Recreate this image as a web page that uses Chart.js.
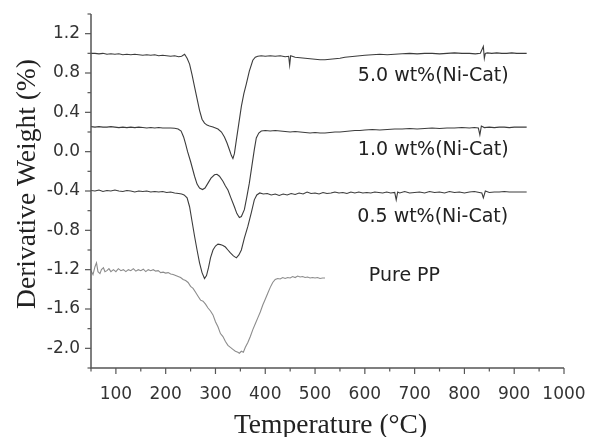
<!DOCTYPE html>
<html>
<head>
<meta charset="utf-8">
<script src="https://cdn.jsdelivr.net/npm/chart.js@4.4.1/dist/chart.umd.min.js"></script>
<style>
  html, body { margin: 0; padding: 0; background: #fff; }
  #wrap { width: 593px; height: 437px; position: relative; }
</style>
</head>
<body>
<div id="wrap"><canvas id="c"></canvas></div>
<script>
// ---- data ----
const seriesNames = ['5.0 wt%(Ni-Cat)', '1.0 wt%(Ni-Cat)', '0.5 wt%(Ni-Cat)', 'Pure PP'];
const xAxisTitle = 'Temperature (\u00B0C)';
const yAxisTitle = 'Derivative Weight (%)';

const tempNi50 = [50,58,66,74,82,90,98,106,114,122,130,138,146,154,162,170,178,186,194,202,210,218,226,232,238,243,248,253,258,263,268,273,278,283,288,295,305,312,318,323,328,332,335,338,342,347,352,357,362,368,375,380,385,392,400,410,420,430,440,447,449,451,460,470,480,490,500,510,520,530,540,550,560,570,580,590,600,615,630,645,660,675,690,705,720,735,750,765,780,795,810,822,832,838,840,842,846,855,865,875,885,895,905,915,925];
const derivNi50 = [1.00,1.0,0.995,1.0,0.99,0.995,0.99,0.995,0.985,0.99,0.985,0.99,0.985,0.98,0.985,0.98,0.985,0.975,0.98,0.975,0.97,0.975,0.965,0.97,0.99,0.95,0.89,0.78,0.66,0.54,0.42,0.33,0.29,0.27,0.26,0.25,0.23,0.20,0.15,0.09,0.02,-0.04,-0.07,-0.02,0.12,0.29,0.46,0.59,0.69,0.82,0.93,0.96,0.97,0.975,0.97,0.975,0.97,0.975,0.965,0.97,0.88,0.975,0.96,0.955,0.95,0.945,0.94,0.935,0.935,0.94,0.945,0.95,0.96,0.965,0.97,0.975,0.98,0.985,0.99,0.985,0.99,0.995,1.0,0.995,1.0,1.0,0.995,1.0,1.005,1.0,1.0,0.995,1.0,1.07,0.95,1.0,1.005,1.0,1.005,1.0,1.0,1.005,1.0,1.0,1.0];

const tempNi10 = [50,58,66,74,82,90,98,106,114,122,130,138,146,154,162,170,178,186,194,202,210,218,225,231,236,240,244,250,258,263,268,274,279,285,291,298,303,308,315,320,325,331,338,343,348,352,358,363,368,373,378,382,387,392,400,410,420,430,440,450,460,470,480,490,500,510,520,530,540,550,560,570,580,590,600,615,630,645,660,675,690,705,720,735,750,765,780,795,810,820,828,831,834,840,850,860,870,880,890,900,910,925];
const derivNi10 = [0.255,0.25,0.255,0.25,0.25,0.255,0.25,0.245,0.25,0.245,0.25,0.245,0.25,0.245,0.24,0.245,0.24,0.245,0.24,0.24,0.24,0.238,0.23,0.21,0.15,0.08,0.0,-0.10,-0.25,-0.33,-0.37,-0.385,-0.37,-0.32,-0.27,-0.235,-0.23,-0.25,-0.30,-0.35,-0.39,-0.47,-0.56,-0.63,-0.67,-0.66,-0.59,-0.46,-0.32,-0.15,0.02,0.14,0.19,0.21,0.215,0.21,0.215,0.21,0.205,0.2,0.205,0.2,0.195,0.19,0.195,0.19,0.19,0.195,0.2,0.2,0.205,0.21,0.215,0.215,0.22,0.225,0.22,0.225,0.23,0.23,0.235,0.23,0.235,0.24,0.235,0.24,0.24,0.245,0.24,0.245,0.24,0.17,0.26,0.245,0.25,0.245,0.25,0.25,0.245,0.25,0.25,0.25];

const tempNi05 = [50,58,66,74,82,90,98,106,114,122,130,138,146,154,162,170,178,186,194,202,210,218,226,232,237,243,248,253,258,263,268,273,278,282,286,290,295,300,305,310,315,320,325,330,336,342,347,352,358,365,372,378,383,389,396,404,412,420,428,436,444,452,460,468,476,484,492,500,508,516,524,532,540,548,556,564,572,580,588,596,604,612,620,628,636,644,652,660,663,666,670,680,690,700,710,720,730,740,750,760,770,780,790,800,810,820,830,835,838,842,850,860,870,880,890,900,910,925];
const derivNi05 = [-0.395,-0.40,-0.39,-0.405,-0.395,-0.40,-0.39,-0.40,-0.405,-0.395,-0.40,-0.41,-0.40,-0.405,-0.40,-0.41,-0.405,-0.41,-0.405,-0.415,-0.41,-0.42,-0.425,-0.43,-0.44,-0.47,-0.56,-0.71,-0.86,-1.0,-1.13,-1.23,-1.29,-1.26,-1.18,-1.08,-1.0,-0.96,-0.94,-0.945,-0.955,-0.97,-1.0,-1.03,-1.06,-1.08,-1.05,-1.0,-0.88,-0.76,-0.62,-0.49,-0.44,-0.42,-0.43,-0.425,-0.44,-0.43,-0.445,-0.43,-0.44,-0.425,-0.435,-0.42,-0.43,-0.41,-0.425,-0.42,-0.43,-0.415,-0.425,-0.42,-0.41,-0.42,-0.415,-0.425,-0.41,-0.42,-0.41,-0.42,-0.415,-0.42,-0.41,-0.415,-0.42,-0.41,-0.42,-0.415,-0.49,-0.41,-0.42,-0.405,-0.42,-0.415,-0.41,-0.42,-0.405,-0.415,-0.41,-0.42,-0.405,-0.415,-0.41,-0.42,-0.41,-0.405,-0.415,-0.42,-0.47,-0.40,-0.415,-0.41,-0.41,-0.405,-0.41,-0.41,-0.41,-0.41];

const tempPP = [50,54,58,61,64,68,71,75,78,82,86,90,95,100,105,110,115,120,125,130,135,140,145,150,155,160,165,170,175,180,185,190,195,200,205,210,215,220,225,230,235,240,245,250,255,260,265,270,275,280,285,290,295,300,305,310,315,320,325,330,335,340,345,348,352,356,360,365,370,375,380,385,390,395,400,405,410,415,420,425,430,435,440,445,450,455,460,465,470,475,480,485,490,495,500,505,510,515,520];
const derivPP = [-1.21,-1.25,-1.17,-1.13,-1.22,-1.24,-1.20,-1.18,-1.22,-1.21,-1.19,-1.22,-1.20,-1.22,-1.19,-1.21,-1.20,-1.22,-1.20,-1.21,-1.19,-1.215,-1.20,-1.21,-1.195,-1.22,-1.20,-1.21,-1.20,-1.215,-1.21,-1.23,-1.225,-1.235,-1.23,-1.245,-1.25,-1.26,-1.27,-1.28,-1.30,-1.31,-1.33,-1.37,-1.39,-1.43,-1.47,-1.51,-1.52,-1.55,-1.59,-1.62,-1.66,-1.73,-1.78,-1.85,-1.88,-1.93,-1.97,-1.99,-2.01,-2.03,-2.04,-2.05,-2.03,-2.04,-1.99,-1.94,-1.88,-1.81,-1.75,-1.69,-1.63,-1.56,-1.50,-1.44,-1.38,-1.33,-1.30,-1.29,-1.295,-1.28,-1.29,-1.28,-1.285,-1.27,-1.28,-1.265,-1.275,-1.27,-1.28,-1.275,-1.285,-1.28,-1.285,-1.28,-1.29,-1.285,-1.285];

const xMin = 50, xMax = 1000, xStep = 50, xLabelEvery = 100;
const yMin = -2.2, yMax = 1.4, yStep = 0.2, yLabelEvery = 0.4;

// label anchors (data coordinates) for the curve captions
const captionAnchors = [
  {x: 586, y: 0.722},
  {x: 586, y: -0.034},
  {x: 585, y: -0.72},
  {x: 608, y: -1.32}
];

const pts = (t, v) => t.map((tt, i) => ({x: tt, y: v[i]}));

const darkLine = '#3c3c3c';
const lightLine = '#8c8c8c';

const decor = {
  id: 'decor',
  afterDraw(chart) {
    const {ctx, chartArea: a, scales: {x, y}} = chart;
    ctx.save();
    ctx.strokeStyle = '#555';
    ctx.lineWidth = 1.5;
    ctx.beginPath();
    ctx.moveTo(a.left, a.top);
    ctx.lineTo(a.left, a.bottom);
    ctx.lineTo(a.right, a.bottom);
    ctx.stroke();
    ctx.lineWidth = 1.2;
    x.ticks.forEach(t => {
      const px = x.getPixelForValue(t.value);
      const major = Math.abs(Math.round(t.value) % xLabelEvery) === 0;
      ctx.beginPath();
      ctx.moveTo(px, a.bottom);
      ctx.lineTo(px, a.bottom + (major ? 6 : 3.5));
      ctx.stroke();
    });
    y.ticks.forEach(t => {
      const py = y.getPixelForValue(t.value);
      const major = Math.abs(Math.round(t.value * 10) % Math.round(yLabelEvery * 10)) === 0;
      ctx.beginPath();
      ctx.moveTo(a.left, py);
      ctx.lineTo(a.left - (major ? 6 : 3.5), py);
      ctx.stroke();
    });
    // captions
    ctx.fillStyle = '#222';
    ctx.font = '19px "DejaVu Sans"';
    ctx.textAlign = 'left';
    ctx.textBaseline = 'alphabetic';
    seriesNames.forEach((name, i) => {
      const an = captionAnchors[i];
      ctx.fillText(name, x.getPixelForValue(an.x), y.getPixelForValue(an.y));
    });
    // axis titles
    ctx.font = '27.5px "Liberation Serif"';
    ctx.textAlign = 'center';
    ctx.fillText(xAxisTitle, (a.left + a.right) / 2 + 3, a.bottom + 65);
    ctx.translate(a.left - 56, (a.top + a.bottom) / 2 - 7);
    ctx.rotate(-Math.PI / 2);
    ctx.fillText(yAxisTitle, 0, 0);
    ctx.restore();
  }
};

const zeroPad = s => { s.paddingTop = 0; s.paddingBottom = 0; s.paddingLeft = 0; s.paddingRight = 0; };

new Chart(document.getElementById('c'), {
  type: 'line',
  data: {
    datasets: [
      {label: seriesNames[0], data: pts(tempNi50, derivNi50), borderColor: darkLine},
      {label: seriesNames[1], data: pts(tempNi10, derivNi10), borderColor: darkLine},
      {label: seriesNames[2], data: pts(tempNi05, derivNi05), borderColor: darkLine},
      {label: seriesNames[3], data: pts(tempPP, derivPP), borderColor: lightLine}
    ]
  },
  options: {
    responsive: true,
    maintainAspectRatio: false,
    animation: false,
    layout: {autoPadding: false, padding: {left: 0, top: 14, right: 29, bottom: 0}},
    elements: {
      point: {radius: 0},
      line: {borderWidth: 1.1, tension: 0, fill: false}
    },
    plugins: {legend: {display: false}, tooltip: {enabled: false}},
    scales: {
      x: {
        type: 'linear', min: xMin, max: xMax,
        grid: {display: false, drawTicks: false},
        border: {display: false},
        ticks: {
          stepSize: xStep, autoSkip: false, maxRotation: 0, padding: 16,
          color: '#333', font: {family: '"DejaVu Sans"', size: 17},
          callback: v => (Math.round(v) % xLabelEvery === 0 ? String(Math.round(v)) : '')
        },
        afterFit: s => { s.height = 69; zeroPad(s); }
      },
      y: {
        type: 'linear', min: yMin, max: yMax,
        grid: {display: false, drawTicks: false},
        border: {display: false},
        ticks: {
          stepSize: yStep, autoSkip: false, padding: 11,
          color: '#333', font: {family: '"DejaVu Sans"', size: 17},
          callback: v => (Math.round(v * 10) % Math.round(yLabelEvery * 10) === 0 ? (Math.abs(v) < 1e-9 ? '0.0' : v.toFixed(1)) : '')
        },
        afterFit: s => { s.width = 91; zeroPad(s); }
      }
    }
  },
  plugins: [decor]
});
</script>
</body>
</html>
